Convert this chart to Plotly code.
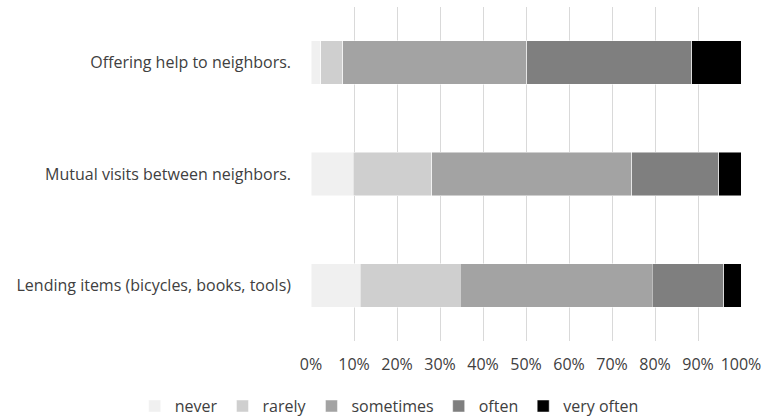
import plotly.graph_objects as go

categories = ["Offering help to neighbors.", "Mutual visits between neighbors.", "Lending items (bicycles, books, tools)"]
series_names = ["never", "rarely", "sometimes", "often", "very often"]
never = [2.3, 9.8, 11.4]
rarely = [5.1, 18.3, 23.3]
sometimes = [42.8, 46.5, 44.7]
often = [38.4, 20.2, 16.6]
very_often = [11.4, 5.2, 4.0]
x_ticks = [0, 0.1, 0.2, 0.3, 0.4, 0.5, 0.6, 0.7, 0.8, 0.9, 1.0]

colors = ["#f0f0f0", "#cfcfcf", "#a3a3a3", "#7f7f7f", "#000000"]
all_series = [never, rarely, sometimes, often, very_often]

fig = go.Figure()
for name, vals, col in zip(series_names, all_series, colors):
    fig.add_trace(go.Bar(
        y=categories, x=[v / 100 for v in vals], name=name, orientation="h",
        marker=dict(color=col, line=dict(color="rgba(255,255,255,0.6)", width=0.8)),
    ))

font_family = "Open Sans, Noto Sans, sans-serif"
fig.update_layout(
    barmode="stack",
    bargap=0.61,
    width=765, height=416,
    margin=dict(l=311, r=24, t=7, b=75, autoexpand=False),
    plot_bgcolor="white", paper_bgcolor="white",
    font=dict(family=font_family, size=16, color="#404040"),
    xaxis=dict(range=[0, 1], tickvals=x_ticks, tickformat=".0%",
               showgrid=True, gridcolor="#d9d9d9", gridwidth=1,
               zeroline=False, showline=False, ticks="", ticklabelstandoff=12,
               tickfont=dict(size=16, color="#404040"), automargin=False),
    yaxis=dict(autorange="reversed", showgrid=False, showline=False, ticks="",
               ticklabelstandoff=19, tickfont=dict(size=16, color="#404040"),
               automargin=False),
    legend=dict(orientation="h", xref="paper", yref="paper",
                x=-0.41, xanchor="left", y=-0.195, yanchor="middle",
                font=dict(size=16, color="#404040"), traceorder="normal",
                itemwidth=30),
    showlegend=True,
)
fig.write_html("out.html", config={"displayModeBar": False},
               post_script="document.body.style.margin='0';")
